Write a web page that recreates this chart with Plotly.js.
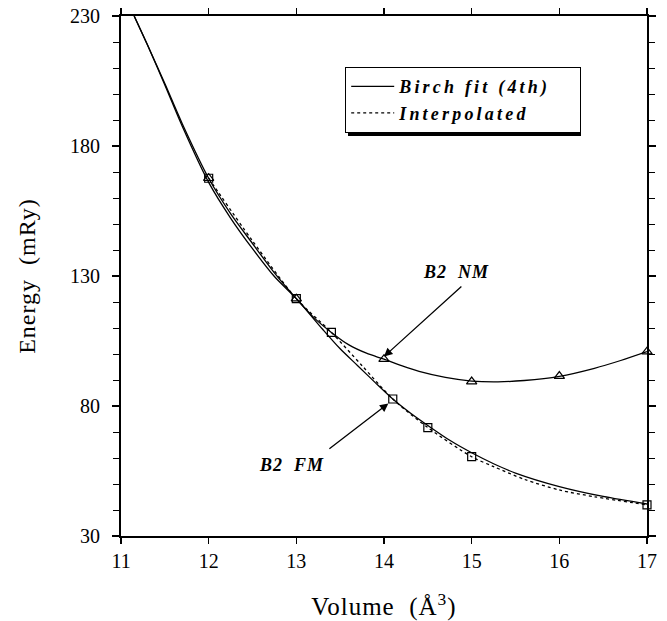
<!DOCTYPE html>
<html>
<head>
<meta charset="utf-8">
<script src="https://cdn.plot.ly/plotly-3.0.1.min.js"></script>
<style>
html,body{margin:0;padding:0;background:#fff;}
#chart{width:667px;height:621px;}
.legendtext { letter-spacing: 3.2px; }
.annotation-text { letter-spacing: 1px; }
.xtitle, .ytitle { letter-spacing: 1px; }
</style>
</head>
<body>
<div id="chart"></div>
<script>
// Birch fit (4th), B2 FM
const fmFitV = [11.15, 11.3, 11.5, 11.7, 12.0, 12.25, 12.5, 12.75, 13.0, 13.3, 13.5, 13.7, 13.9, 14.1, 14.3, 14.5, 14.75, 15.0, 15.25, 15.5, 16.0, 16.5, 17.0];
const fmFitE = [230, 219, 203.5, 187.5, 166.0, 152.3, 140.5, 129.8, 121.3, 109.5, 102.0, 95.5, 89.0, 82.7, 77.3, 72.5, 66.8, 62.0, 57.8, 54.2, 49.0, 45.2, 42.3];
// Birch fit (4th), B2 NM
const nmFitV = [11.15, 11.3, 11.5, 11.7, 12.0, 12.25, 12.5, 12.75, 13.0, 13.2, 13.4, 13.6, 13.8, 14.0, 14.2, 14.4, 14.7, 15.0, 15.3, 15.6, 16.0, 16.4, 16.7, 17.0];
const nmFitE = [230, 219, 204, 188.5, 167.6, 154, 142.5, 131.2, 121.3, 114, 108.3, 103.5, 100.3, 98.0, 95.5, 93.3, 91.0, 89.6, 89.3, 89.8, 91.4, 94.5, 97.5, 100.9];
// Interpolated, B2 FM
const interpV = [12.0, 12.5, 13.0, 13.4, 13.75, 14.1, 14.5, 15.0, 15.25, 15.6, 16.0, 16.4, 17.0];
const interpE = [167.6, 143.5, 121.3, 108.3, 95.5, 82.7, 71.7, 60.5, 56.7, 51.8, 47.7, 45.1, 42.0];
// Calculated points
const fmPtsV = [12, 13, 13.4, 14.1, 14.5, 15, 17];
const fmPtsE = [167.6, 121.3, 108.3, 82.7, 71.7, 60.5, 42.0];
const nmPtsV = [12, 13, 14, 15, 16, 17];
const nmPtsE = [167.6, 121.3, 98.0, 89.4, 91.5, 100.9];

const xTicks = [11, 12, 13, 14, 15, 16, 17];
const yTicks = [30, 80, 130, 180, 230];

const serif = 'Liberation Serif, Times New Roman, serif';
const nb = '\u00a0';

const traces = [
  {x: fmFitV, y: fmFitE, mode: 'lines', name: 'Birch fit (4th)' + nb + nb + nb,
   line: {color: '#000', width: 1.3, shape: 'spline', smoothing: 0.8}, showlegend: true},
  {x: interpV, y: interpE, mode: 'lines', name: 'Interpolated',
   line: {color: '#000', width: 1.3, dash: 'dot', shape: 'spline', smoothing: 0.8}, showlegend: true},
  {x: nmFitV, y: nmFitE, mode: 'lines', name: 'NM fit',
   line: {color: '#000', width: 1.3, shape: 'spline', smoothing: 0.8}, showlegend: false},
  {x: fmPtsV, y: fmPtsE, mode: 'markers', name: 'B2 FM', showlegend: false, cliponaxis: false,
   marker: {symbol: 'square-open', size: 8, color: '#000', line: {width: 1.2}}},
  {x: nmPtsV, y: nmPtsE, mode: 'markers', name: 'B2 NM', showlegend: false, cliponaxis: false,
   marker: {symbol: 'triangle-up-open', size: 9, color: '#000', line: {width: 1.2}}}
];

const W = 526, H = 520, L = 121, T = 16;
function px(xp) { return (xp - L) / W; }
function py(yp) { return (T + H - yp) / H; }

const layout = {
  width: 667, height: 621,
  margin: {l: 121, r: 20, t: 16, b: 85},
  paper_bgcolor: '#fff', plot_bgcolor: '#fff',
  font: {family: serif, color: '#000', size: 20},
  showlegend: true,
  legend: {
    x: px(345), y: py(67), xanchor: 'left', yanchor: 'top',
    bgcolor: '#fff', bordercolor: '#000', borderwidth: 1.2,
    font: {family: serif, size: 18, style: 'italic', weight: 'bold', color: '#000'},
    tracegroupgap: 0, itemwidth: 43
  },
  xaxis: {
    range: [11, 17], tickvals: xTicks, ticktext: xTicks.map(String),
    showline: true, linecolor: '#000', linewidth: 2, mirror: 'ticks',
    ticks: 'outside', ticklen: 6, tickwidth: 1.5, tickcolor: '#000',
    showgrid: false, zeroline: false,
    tickfont: {family: serif, size: 20},
    title: {text: 'Volume' + nb + nb + '(Å<sup>3</sup>)', font: {family: serif, size: 25}, standoff: 34}
  },
  yaxis: {
    range: [30, 230], tickvals: yTicks, ticktext: yTicks.map(String),
    showline: true, linecolor: '#000', linewidth: 2, mirror: 'ticks',
    ticks: 'outside', ticklen: 7, tickwidth: 1.5, tickcolor: '#000',
    ticklabelstandoff: 8,
    minor: {dtick: 10, ticks: 'outside', ticklen: 6, tickwidth: 1, tickcolor: '#000', showgrid: false},
    showgrid: false, zeroline: false,
    tickfont: {family: serif, size: 20},
    title: {text: 'Energy' + nb + nb + '(mRy)', font: {family: serif, size: 24}, standoff: 28}
  },
  shapes: [
    // drop shadow of the legend box
    {type: 'rect', xref: 'paper', yref: 'paper', x0: px(348), x1: px(581), y0: py(136), y1: py(70),
     fillcolor: '#000', line: {width: 0}, layer: 'above'}
  ],
  annotations: [
    {x: 14.0, y: 99.0, ax: 14.9, ay: 126.5, xref: 'x', yref: 'y', axref: 'x', ayref: 'y',
     text: '', showarrow: true, arrowhead: 2, arrowsize: 1.3, arrowwidth: 1.3, arrowcolor: '#000', standoff: 0},
    {x: 14.05, y: 81.0, ax: 13.36, ay: 63.1, xref: 'x', yref: 'y', axref: 'x', ayref: 'y',
     text: '', showarrow: true, arrowhead: 2, arrowsize: 1.3, arrowwidth: 1.3, arrowcolor: '#000', standoff: 0},
    {x: 14.82, y: 131.5, xref: 'x', yref: 'y', text: 'B2' + nb + nb + 'NM', showarrow: false,
     font: {family: serif, size: 18, style: 'italic', weight: 'bold'}},
    {x: 12.94, y: 57.3, xref: 'x', yref: 'y', text: 'B2' + nb + nb + 'FM', showarrow: false,
     font: {family: serif, size: 18, style: 'italic', weight: 'bold'}}
  ]
};

Plotly.newPlot('chart', traces, layout, {displayModeBar: false, staticPlot: true});
</script>
</body>
</html>
